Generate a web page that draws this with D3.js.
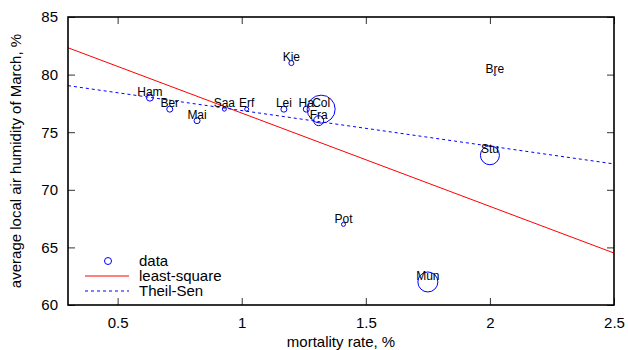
<!DOCTYPE html>
<html>
<head>
<meta charset="utf-8">
<script src="https://cdn.jsdelivr.net/npm/d3@7"></script>
<style>
  body { margin: 0; background: #fff; }
  text { font-family: "Liberation Sans", Arial, sans-serif; }
</style>
</head>
<body>
<div id="chart"></div>
<script>
// city abbreviations, mortality rate (%), humidity (%) and marker weight
const cities    = ["Ham", "Ber", "Mai", "Saa", "Erf", "Lei", "Ha", "Col", "Fra", "Kie", "Pot", "Mun", "Bre", "Stu"];
const mortality = [0.63, 0.71, 0.82, 0.93, 1.02, 1.17, 1.26, 1.32, 1.31, 1.20, 1.41, 1.75, 2.02, 2.00];
const humidity  = [78, 77, 76, 77, 77, 77, 77, 77, 76, 81, 67, 62, 80, 73];
const weight    = [3.5, 3, 3, 2, 2, 3, 3, 14, 5, 2.5, 2, 10, 1, 9.5];

// fitted lines: y = intercept + slope * x
const fitNames      = ["least-square", "Theil-Sen"];
const fitIntercepts = [84.76, 79.97];
const fitSlopes     = [-8.1, -3.09];

const xTicks = [0.5, 1, 1.5, 2, 2.5];
const yTicks = [60, 65, 70, 75, 80, 85];

const width = 628, height = 350;
const margin = { top: 17, right: 14, bottom: 45, left: 68 };
const innerW = width - margin.left - margin.right;
const innerH = height - margin.top - margin.bottom;

const svg = d3.select("#chart")
  .append("svg")
  .attr("width", width)
  .attr("height", height);

const g = svg.append("g")
  .attr("transform", `translate(${margin.left},${margin.top})`);

const x = d3.scaleLinear().domain([0.3, 2.5]).range([0, innerW]);
const y = d3.scaleLinear().domain([60, 85]).range([innerH, 0]);
const r = d3.scaleLinear().domain([0, 14]).range([0, 14]);

const fmt = d3.format("~g");

// axes with inward ticks, mirrored on top and right
function styleAxis(sel) {
  sel.select(".domain").remove();
  sel.selectAll(".tick line").attr("stroke", "#333").attr("stroke-width", 1);
  sel.selectAll(".tick text").attr("fill", "#000").style("font-size", "15px");
}

g.append("g")
  .attr("transform", `translate(0,${innerH})`)
  .call(d3.axisBottom(x).tickValues(xTicks).tickFormat(fmt).tickSizeInner(-7).tickSizeOuter(0).tickPadding(12))
  .call(styleAxis);

g.append("g")
  .call(d3.axisTop(x).tickValues(xTicks).tickFormat("").tickSizeInner(-7).tickSizeOuter(0))
  .call(styleAxis);

g.append("g")
  .call(d3.axisLeft(y).tickValues(yTicks).tickFormat(fmt).tickSizeInner(-7).tickSizeOuter(0).tickPadding(10))
  .call(styleAxis);

g.append("g")
  .attr("transform", `translate(${innerW},0)`)
  .call(d3.axisRight(y).tickValues(yTicks).tickFormat("").tickSizeInner(-7).tickSizeOuter(0))
  .call(styleAxis);

// clip for fit lines
svg.append("clipPath").attr("id", "plot-clip")
  .append("rect").attr("width", innerW).attr("height", innerH);

const fitColors = ["#ff0000", "#0000ff"];
const fitDash = [null, "3,3"];
const xd = x.domain();

fitNames.forEach((name, i) => {
  g.append("line")
    .attr("clip-path", "url(#plot-clip)")
    .attr("x1", x(xd[0]))
    .attr("y1", y(fitIntercepts[i] + fitSlopes[i] * xd[0]))
    .attr("x2", x(xd[1]))
    .attr("y2", y(fitIntercepts[i] + fitSlopes[i] * xd[1]))
    .attr("stroke", fitColors[i])
    .attr("stroke-width", 1)
    .attr("stroke-dasharray", fitDash[i]);
});

// data points
const points = cities.map((c, i) => ({ name: c, mx: mortality[i], hy: humidity[i], w: weight[i] }));

g.selectAll("circle.pt")
  .data(points)
  .enter()
  .append("circle")
  .attr("class", "pt")
  .attr("cx", (d) => x(d.mx))
  .attr("cy", (d) => y(d.hy))
  .attr("r", (d) => r(d.w))
  .attr("fill", "none")
  .attr("stroke", "#0000ff")
  .attr("stroke-width", 1);

g.selectAll("text.lbl")
  .data(points)
  .enter()
  .append("text")
  .attr("class", "lbl")
  .attr("x", (d) => x(d.mx))
  .attr("y", (d) => y(d.hy) - 6)
  .attr("dy", "0.35em")
  .attr("text-anchor", "middle")
  .style("font-size", "12px")
  .text((d) => d.name);

// frame
g.append("rect")
  .attr("width", innerW)
  .attr("height", innerH)
  .attr("fill", "none")
  .attr("stroke", "#000")
  .attr("stroke-width", 1.6);

// legend
const legend = g.append("g").attr("transform", "translate(17,244)");
const legendRows = ["data"].concat(fitNames);
legendRows.forEach((name, i) => {
  const row = legend.append("g").attr("transform", `translate(0,${i * 15})`);
  if (i === 0) {
    row.append("circle")
      .attr("cx", 23).attr("cy", 0).attr("r", 3.5)
      .attr("fill", "none").attr("stroke", "#0000ff").attr("stroke-width", 1);
  } else {
    row.append("line")
      .attr("x1", 0).attr("x2", 44).attr("y1", 0).attr("y2", 0)
      .attr("stroke", fitColors[i - 1])
      .attr("stroke-width", 1)
      .attr("stroke-dasharray", fitDash[i - 1]);
  }
  row.append("text")
    .attr("x", 54).attr("y", 0).attr("dy", "0.35em")
    .style("font-size", "15px")
    .text(name);
});

// axis titles
svg.append("text")
  .attr("x", margin.left + innerW / 2)
  .attr("y", 347)
  .attr("text-anchor", "middle")
  .style("font-size", "15px")
  .text("mortality rate, %");

svg.append("text")
  .attr("transform", `translate(21,${margin.top + innerH / 2}) rotate(-90)`)
  .attr("text-anchor", "middle")
  .style("font-size", "15px")
  .text("average local air humidity of March, %");
</script>
</body>
</html>
